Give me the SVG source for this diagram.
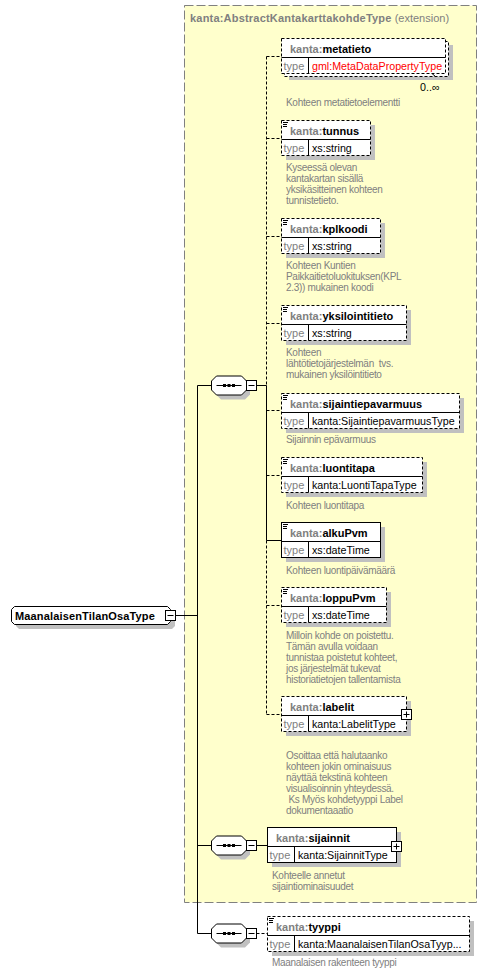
<svg xmlns="http://www.w3.org/2000/svg" width="502" height="973" viewBox="0 0 502 973">
<style>
text{font-family:"Liberation Sans",Arial,sans-serif;white-space:pre}
.hdr{font-size:11px;font-weight:bold;fill:#000}
.ns{fill:#808080}
.tl{font-size:11px;fill:#808080}
.tv{font-size:10.7px;fill:#000}
.red{fill:#ff0000}
.desc{font-size:10px;letter-spacing:-0.3px;fill:#808080}
.box{fill:#fff;stroke:#000;stroke-width:1}
.opt{stroke-dasharray:3,2}
.sh{fill:#c0c0c0}
.ln{stroke:#000;stroke-width:1;fill:none}
.dl{stroke:#000;stroke-width:1;fill:none;stroke-dasharray:3,2}
.ic{fill:#000}
</style>
<defs>
<g id="seq">
<path class="sh" d="M221,-6 H245 L250,-1 V9 L245,14 H221 L216,9 V-1 Z"/>
<path class="box" d="M216.5,-9.5 H241.5 L246.5,-4.5 V4.5 L241.5,9.5 H216.5 L211.5,4.5 V-4.5 Z"/>
<line class="ln" x1="216.5" y1="0" x2="241.5" y2="0"/>
<rect class="ic" x="223" y="-1.5" width="3" height="3"/>
<rect class="ic" x="227.5" y="-1.5" width="3" height="3"/>
<rect class="ic" x="232" y="-1.5" width="3" height="3"/>
<rect class="box" x="246.5" y="-5" width="10" height="10"/>
<line class="ln" x1="248.5" y1="0" x2="254.5" y2="0"/>
</g>
<g id="doc">
<rect x="0" y="0" width="5" height="1"/>
<rect x="0" y="2" width="4" height="1"/>
<rect x="0" y="4" width="4" height="1"/>
</g>
</defs>

<g id="extension">
<rect x="184.5" y="5.5" width="292" height="897" fill="#ffffcc" stroke="#808080" stroke-dasharray="9,3"/>
<text x="190" y="22" font-size="11px" fill="#808080"><tspan font-weight="bold" letter-spacing="0.2px">kanta:AbstractKantakarttakohdeType</tspan> (extension)</text>
</g>

<g id="connectors">
<line class="ln" x1="175.5" y1="615.5" x2="197.5" y2="615.5"/>
<line class="ln" x1="197.5" y1="385.5" x2="197.5" y2="933.5"/>
<line class="ln" x1="197.5" y1="385.5" x2="211.5" y2="385.5"/>
<line class="ln" x1="197.5" y1="845.5" x2="211.5" y2="845.5"/>
<line class="ln" x1="197.5" y1="933.5" x2="211.5" y2="933.5"/>
<line class="ln" x1="256.5" y1="385.5" x2="266.5" y2="385.5"/>
<line class="dl" x1="266.5" y1="56.5" x2="266.5" y2="385.5"/>
<line class="ln" x1="266.5" y1="385.5" x2="266.5" y2="540.5"/>
<line class="dl" x1="266.5" y1="540.5" x2="266.5" y2="714.5"/>
<line class="dl" x1="266.5" y1="56.5" x2="281.5" y2="56.5"/>
<line class="dl" x1="266.5" y1="138.5" x2="281.5" y2="138.5"/>
<line class="dl" x1="266.5" y1="236.5" x2="281.5" y2="236.5"/>
<line class="dl" x1="266.5" y1="323.5" x2="281.5" y2="323.5"/>
<line class="dl" x1="266.5" y1="410.5" x2="281.5" y2="410.5"/>
<line class="dl" x1="266.5" y1="475.5" x2="281.5" y2="475.5"/>
<line class="ln" x1="266.5" y1="540.5" x2="281.5" y2="540.5"/>
<line class="dl" x1="266.5" y1="605.5" x2="281.5" y2="605.5"/>
<line class="dl" x1="266.5" y1="714.5" x2="281.5" y2="714.5"/>
<line class="ln" x1="256.5" y1="845.5" x2="267.5" y2="845.5"/>
<line class="dl" x1="256.5" y1="933.5" x2="267.5" y2="933.5"/>
</g>

<g id="root">
<path class="sh" d="M19,611 H172 L175,614 V626 L172,629 H19 L16,626 V614 Z"/>
<path class="box" d="M14.5,606.5 H167.5 L170.5,609.5 V621.5 L167.5,624.5 H14.5 L11.5,621.5 V609.5 Z"/>
<text class="hdr" x="15" y="620" letter-spacing="0.15px">MaanalaisenTilanOsaType</text>
<rect class="box" x="165.5" y="610.5" width="10" height="10"/>
<line class="ln" x1="167.5" y1="615.5" x2="173.5" y2="615.5"/>
</g>

<g id="seq1"><use href="#seq" transform="translate(0,385.5)"/></g>
<g id="seq2"><use href="#seq" transform="translate(0,845.5)"/></g>
<g id="seq3"><use href="#seq" transform="translate(0,933.5)"/></g>

<g id="metatieto">
<rect class="sh" x="289" y="45" width="164" height="35"/>
<rect class="box opt" x="284.5" y="41.5" width="164" height="35"/>
<rect class="box opt" x="281.5" y="38.5" width="164" height="35"/>
<line class="ln" x1="281.5" y1="57.5" x2="445.5" y2="57.5"/>
<line class="ln" x1="308.5" y1="57.5" x2="308.5" y2="73.5"/>
<line class="ln" x1="432" y1="73.5" x2="436" y2="77"/>
<text class="hdr" x="290" y="52.5"><tspan class="ns">kanta:</tspan>metatieto</text>
<text class="tl" x="283.5" y="69.5">type</text>
<text class="tv red" x="312" y="69.5">gml:MetaDataPropertyType</text>
<text class="tv" x="420" y="91">0..∞</text>
<text class="desc" x="286" y="106">Kohteen metatietoelementti</text>
</g>

<g id="tunnus">
<rect class="sh" x="286" y="125" width="89" height="35"/>
<rect class="box opt" x="281.5" y="120.5" width="89" height="35"/>
<line class="ln" x1="281.5" y1="139.5" x2="370.5" y2="139.5"/>
<line class="ln" x1="308.5" y1="139.5" x2="308.5" y2="155.5"/>
<use href="#doc" x="283" y="122"/>
<text class="hdr" x="290" y="134.5"><tspan class="ns">kanta:</tspan>tunnus</text>
<text class="tl" x="283.5" y="151.5">type</text>
<text class="tv" x="312" y="151.5">xs:string</text>
<text class="desc" x="286" y="171">Kyseessä olevan</text>
<text class="desc" x="286" y="182">kantakartan sisällä</text>
<text class="desc" x="286" y="193">yksikäsitteinen kohteen</text>
<text class="desc" x="286" y="204">tunnistetieto.</text>
</g>

<g id="kplkoodi">
<rect class="sh" x="286" y="223" width="99" height="35"/>
<rect class="box opt" x="281.5" y="218.5" width="99" height="35"/>
<line class="ln" x1="281.5" y1="237.5" x2="380.5" y2="237.5"/>
<line class="ln" x1="308.5" y1="237.5" x2="308.5" y2="253.5"/>
<use href="#doc" x="283" y="220"/>
<text class="hdr" x="290" y="232.5"><tspan class="ns">kanta:</tspan>kplkoodi</text>
<text class="tl" x="283.5" y="249.5">type</text>
<text class="tv" x="312" y="249.5">xs:string</text>
<text class="desc" x="286" y="269">Kohteen Kuntien</text>
<text class="desc" x="286" y="280">Paikkaitietoluokituksen(KPL</text>
<text class="desc" x="286" y="291">2.3)) mukainen koodi</text>
</g>

<g id="yksilointitieto">
<rect class="sh" x="286" y="310" width="125" height="35"/>
<rect class="box opt" x="281.5" y="305.5" width="125" height="35"/>
<line class="ln" x1="281.5" y1="324.5" x2="406.5" y2="324.5"/>
<line class="ln" x1="308.5" y1="324.5" x2="308.5" y2="340.5"/>
<use href="#doc" x="283" y="307"/>
<text class="hdr" x="290" y="319.5"><tspan class="ns">kanta:</tspan>yksilointitieto</text>
<text class="tl" x="283.5" y="336.5">type</text>
<text class="tv" x="312" y="336.5">xs:string</text>
<text class="desc" x="286" y="356">Kohteen</text>
<text class="desc" x="286" y="367">lähtötietojärjestelmän  tvs.</text>
<text class="desc" x="286" y="378">mukainen yksilöintitieto</text>
</g>

<g id="sijaintiepavarmuus">
<rect class="sh" x="286" y="398" width="178" height="35"/>
<rect class="box opt" x="281.5" y="393.5" width="178" height="35"/>
<line class="ln" x1="281.5" y1="412.5" x2="459.5" y2="412.5"/>
<line class="ln" x1="308.5" y1="412.5" x2="308.5" y2="428.5"/>
<use href="#doc" x="283" y="395"/>
<text class="hdr" x="290" y="407.5"><tspan class="ns">kanta:</tspan>sijaintiepavarmuus</text>
<text class="tl" x="283.5" y="424.5">type</text>
<text class="tv" x="312" y="424.5">kanta:SijaintiepavarmuusType</text>
<text class="desc" x="286" y="443">Sijainnin epävarmuus</text>
</g>

<g id="luontitapa">
<rect class="sh" x="286" y="462" width="141" height="35"/>
<rect class="box opt" x="281.5" y="457.5" width="141" height="35"/>
<line class="ln" x1="281.5" y1="476.5" x2="422.5" y2="476.5"/>
<line class="ln" x1="308.5" y1="476.5" x2="308.5" y2="492.5"/>
<use href="#doc" x="283" y="459"/>
<text class="hdr" x="290" y="471.5"><tspan class="ns">kanta:</tspan>luontitapa</text>
<text class="tl" x="283.5" y="488.5">type</text>
<text class="tv" x="312" y="488.5">kanta:LuontiTapaType</text>
<text class="desc" x="286" y="508.5">Kohteen luontitapa</text>
</g>

<g id="alkuPvm">
<rect class="sh" x="286" y="527" width="99" height="35"/>
<rect class="box" x="281.5" y="522.5" width="99" height="35"/>
<line class="ln" x1="281.5" y1="541.5" x2="380.5" y2="541.5"/>
<line class="ln" x1="308.5" y1="541.5" x2="308.5" y2="557.5"/>
<use href="#doc" x="283" y="524"/>
<text class="hdr" x="290" y="536.5"><tspan class="ns">kanta:</tspan>alkuPvm</text>
<text class="tl" x="283.5" y="553.5">type</text>
<text class="tv" x="312" y="553.5">xs:dateTime</text>
<text class="desc" x="286" y="573.5">Kohteen luontipäivämäärä</text>
</g>

<g id="loppuPvm">
<rect class="sh" x="286" y="592" width="105" height="35"/>
<rect class="box opt" x="281.5" y="587.5" width="105" height="35"/>
<line class="ln" x1="281.5" y1="606.5" x2="386.5" y2="606.5"/>
<line class="ln" x1="308.5" y1="606.5" x2="308.5" y2="622.5"/>
<use href="#doc" x="283" y="589"/>
<text class="hdr" x="290" y="601.5"><tspan class="ns">kanta:</tspan>loppuPvm</text>
<text class="tl" x="283.5" y="618.5">type</text>
<text class="tv" x="312" y="618.5">xs:dateTime</text>
<text class="desc" x="286" y="638.5">Milloin kohde on poistettu.</text>
<text class="desc" x="286" y="649.5">Tämän avulla voidaan</text>
<text class="desc" x="286" y="660.5">tunnistaa poistetut kohteet,</text>
<text class="desc" x="286" y="671.5">jos järjestelmät tukevat</text>
<text class="desc" x="286" y="682.5">historiatietojen tallentamista</text>
</g>

<g id="labelit">
<rect class="sh" x="286" y="701" width="125" height="35"/>
<rect class="box opt" x="281.5" y="696.5" width="125" height="35"/>
<line class="ln" x1="281.5" y1="715.5" x2="406.5" y2="715.5"/>
<line class="ln" x1="308.5" y1="715.5" x2="308.5" y2="731.5"/>
<text class="hdr" x="290" y="710.5"><tspan class="ns">kanta:</tspan>labelit</text>
<text class="tl" x="283.5" y="727.5">type</text>
<text class="tv" x="312" y="727.5">kanta:LabelitType</text>
<rect class="box" x="401.5" y="709.5" width="10" height="10"/>
<line class="ln" x1="403.5" y1="714.5" x2="409.5" y2="714.5"/>
<line class="ln" x1="406.5" y1="711.5" x2="406.5" y2="717.5"/>
<text class="desc" x="286" y="758.5">Osoittaa että halutaanko</text>
<text class="desc" x="286" y="769.5">kohteen jokin ominaisuus</text>
<text class="desc" x="286" y="780.5">näyttää tekstinä kohteen</text>
<text class="desc" x="286" y="791.5">visualisoinnin yhteydessä.</text>
<text class="desc" x="286" y="802.5"> Ks Myös kohdetyyppi Label</text>
<text class="desc" x="286" y="813.5">dokumentaaatio</text>
</g>

<g id="sijainnit">
<rect class="sh" x="272" y="832" width="129" height="35"/>
<rect class="box" x="267.5" y="827.5" width="129" height="35"/>
<line class="ln" x1="267.5" y1="846.5" x2="396.5" y2="846.5"/>
<line class="ln" x1="294.5" y1="846.5" x2="294.5" y2="862.5"/>
<text class="hdr" x="276" y="841.5"><tspan class="ns">kanta:</tspan>sijainnit</text>
<text class="tl" x="269.5" y="858.5">type</text>
<text class="tv" x="298" y="858.5">kanta:SijainnitType</text>
<rect class="box" x="391.5" y="841.5" width="10" height="10"/>
<line class="ln" x1="393.5" y1="846.5" x2="399.5" y2="846.5"/>
<line class="ln" x1="396.5" y1="843.5" x2="396.5" y2="849.5"/>
<text class="desc" x="272" y="878.5">Kohteelle annetut</text>
<text class="desc" x="272" y="889.5">sijaintiominaisuudet</text>
</g>

<g id="tyyppi">
<rect class="sh" x="272" y="921" width="202" height="35"/>
<rect class="box opt" x="267.5" y="916.5" width="202" height="35"/>
<line class="ln" x1="267.5" y1="935.5" x2="469.5" y2="935.5"/>
<line class="ln" x1="294.5" y1="935.5" x2="294.5" y2="951.5"/>
<use href="#doc" x="269" y="918"/>
<text class="hdr" x="276" y="930.5"><tspan class="ns">kanta:</tspan>tyyppi</text>
<text class="tl" x="269.5" y="947.5">type</text>
<text class="tv" x="298" y="947.5">kanta:MaanalaisenTilanOsaTyyp...</text>
<text class="desc" x="272" y="966">Maanalaisen rakenteen tyyppi</text>
</g>
</svg>
